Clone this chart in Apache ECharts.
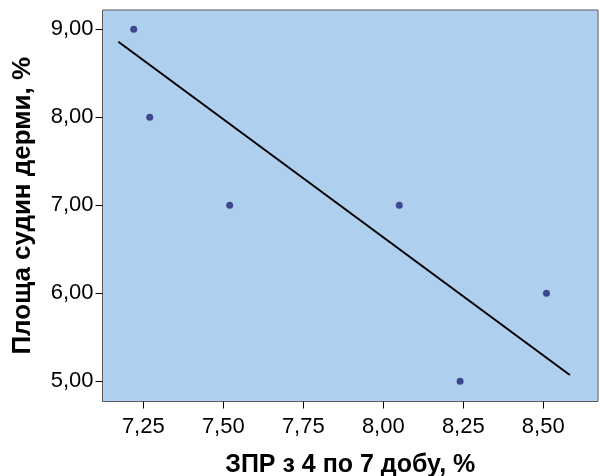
<!DOCTYPE html>
<html><head><meta charset="utf-8">
<script src="https://cdn.jsdelivr.net/npm/echarts@6/dist/echarts.min.js"></script>
<style>html,body{margin:0;padding:0;background:#fff}#c{width:600px;height:476px}</style>
</head><body><div id="c"></div>
<script>
const xTicks = [7.25, 7.50, 7.75, 8.00, 8.25, 8.50];
const yTicks = [5, 6, 7, 8, 9];
const xValues = [7.22, 7.27, 7.52, 8.05, 8.24, 8.51];
const yValues = [9, 8, 7, 7, 5, 6];
const fitX = [7.172, 8.583];
const fitY = [8.859, 5.072];
const xTitle = 'ЗПР з 4 по 7 добу, %';
const yTitle = 'Площа судин дерми, %';

const fmt = v => Number(v).toFixed(2).replace('.', ',');
const chart = echarts.init(document.getElementById('c'));
chart.setOption({
  animation: false,
  grid: {left: 102.5, right: 2, top: 10, bottom: 74.5, show: true, outerBoundsMode: 'none',
         containLabel: false,
         backgroundColor: '#aecfee', borderColor: '#5a5a5a', borderWidth: 1},
  xAxis: {
    type: 'value', min: 7.1225, max: 8.671,
    name: xTitle, nameLocation: 'middle', nameGap: 51,
    nameTextStyle: {fontFamily: 'Liberation Sans, Arial', fontWeight: 'bold', fontSize: 25, color: '#000'},
    axisLine: {show: false},
    splitLine: {show: false},
    axisTick: {show: true, length: 7, lineStyle: {color: '#000'}, customValues: xTicks},
    axisLabel: {customValues: xTicks, formatter: fmt, margin: 14,
                fontFamily: 'Liberation Sans, Arial', fontSize: 22, color: '#000'}
  },
  yAxis: {
    type: 'value', min: 4.77, max: 9.22,
    name: yTitle, nameLocation: 'middle', nameGap: 67,
    nameTextStyle: {fontFamily: 'Liberation Sans, Arial', fontWeight: 'bold', fontSize: 26, color: '#000'},
    axisLine: {show: false},
    splitLine: {show: false},
    axisTick: {show: true, length: 7, lineStyle: {color: '#000'}, customValues: yTicks},
    axisLabel: {customValues: yTicks, formatter: fmt, margin: 9,
                fontFamily: 'Liberation Sans, Arial', fontSize: 22, color: '#000'}
  },
  series: [
    {type: 'line', data: fitX.map((x, i) => [x, fitY[i]]), symbol: 'none',
     lineStyle: {color: '#000', width: 2}, z: 2},
    {type: 'scatter', data: xValues.map((x, i) => [x, yValues[i]]), symbolSize: 7,
     itemStyle: {color: '#23237a'}, z: 3}
  ]
});
</script></body></html>
